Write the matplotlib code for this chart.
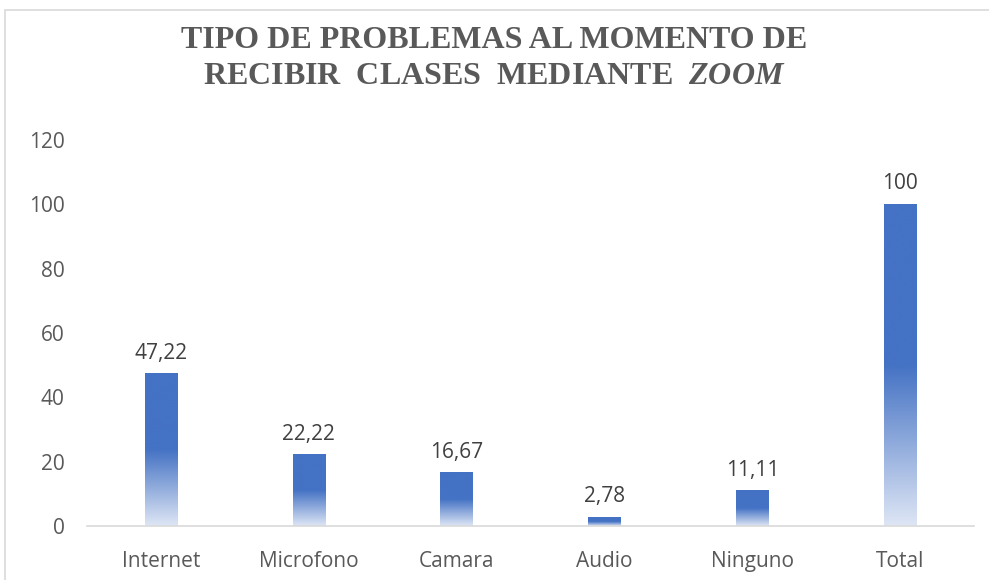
import matplotlib.pyplot as plt
from matplotlib.colors import LinearSegmentedColormap
from matplotlib.patches import Rectangle
import numpy as np

categories = ["Internet", "Microfono", "Camara", "Audio", "Ninguno", "Total"]
values = [47.22, 22.22, 16.67, 2.78, 11.11, 100]
value_labels = ["47,22", "22,22", "16,67", "2,78", "11,11", "100"]
yticks = [0, 20, 40, 60, 80, 100, 120]

plt.rcParams["mathtext.fontset"] = "custom"
plt.rcParams["mathtext.bfit"] = "Liberation Serif:italic:bold"
plt.rcParams["mathtext.rm"] = "Liberation Serif"

fig = plt.figure(figsize=(9.89, 5.8), dpi=100)
ax = fig.add_axes([0.088, 0.093, 0.897, 0.666])

# outer chart border (cut at right/bottom like the source)
fig.patches.append(Rectangle((5 / 989, -0.1), 1.2, 1.1 - 10 / 580,
                             transform=fig.transFigure, fill=False,
                             edgecolor="#D9D9D9", linewidth=1.2))

# gradient: light at the bottom, solid blue from half height up
cmap = LinearSegmentedColormap.from_list(
    "bar", [(0.0, "#DEE6F5"), (0.5, "#4472C4"), (1.0, "#4472C4")])
grad = np.linspace(0, 1, 256).reshape(-1, 1)

x = np.arange(len(categories))
width = 0.22
bars = ax.bar(x, values, width=width, color="none", edgecolor="none")
for b, lab in zip(bars, value_labels):
    x0, h = b.get_x(), b.get_height()
    ax.imshow(grad, cmap=cmap, origin="lower", aspect="auto",
              extent=[x0, x0 + width, 0, h], zorder=2)
    ax.annotate(lab, (x0 + width / 2, h), xytext=(0, 7),
                textcoords="offset points", ha="center", va="bottom",
                fontsize=15, color="#404040", family="Open Sans")

ax.set_xlim(-0.5, len(categories) - 0.5)
ax.set_ylim(0, 120)
ax.set_yticks(yticks)
ax.set_xticks(x)
ax.set_xticklabels(categories)
ax.tick_params(length=0, labelsize=15, labelcolor="#595959")
ax.tick_params(axis="x", pad=18)
ax.tick_params(axis="y", pad=16)
for lbl in ax.get_xticklabels() + ax.get_yticklabels():
    lbl.set_family("Open Sans")

for s in ("top", "right", "left"):
    ax.spines[s].set_visible(False)
ax.spines["bottom"].set_color("#D9D9D9")
ax.spines["bottom"].set_linewidth(1.2)

fig.text(0.5, 1 - 40 / 580, "TIPO DE PROBLEMAS AL MOMENTO DE",
         ha="center", va="center", fontsize=23, fontweight="bold",
         color="#595959", family="Liberation Serif")
fig.text(0.5, 1 - 77 / 580, r"RECIBIR  CLASES  MEDIANTE  $\mathbfit{ZOOM}$",
         ha="center", va="center", fontsize=23, fontweight="bold",
         color="#595959", family="Liberation Serif")

fig.savefig("out.png", dpi=100)
